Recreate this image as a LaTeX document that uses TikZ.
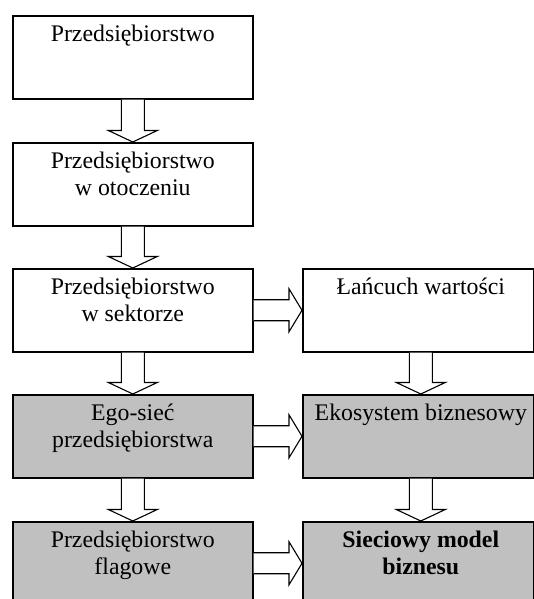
\documentclass[tikz,border=0pt]{standalone}
\usepackage{fontspec}
\setmainfont{Liberation Serif}
\usetikzlibrary{calc}
\definecolor{boxgray}{HTML}{C0C0C0}
\tikzset{
  box/.style={draw=black, line width=1.6pt, fill=white, minimum width=240pt, minimum height=83pt, inner sep=0pt, anchor=north west},
  rbox/.style={box, minimum width=231pt},
  graybox/.style={fill=boxgray},
  txt/.style={anchor=north, inner sep=0pt, align=center, font=\fontsize{23.8}{26.5}\selectfont},
  blockarrow/.style={draw=black, line width=1.1pt, fill=white, line join=miter}
}
\newcommand\vblockarrow[3]{%
  \draw[blockarrow] ($(#1.south)+(#3-11.5,0)$) -- ($(#2.north)+(#3-11.5,11.5)$) -- ($(#2.north)+(#3-24.5,11.5)$) -- ($(#2.north)+(#3,0)$) -- ($(#2.north)+(#3+24.5,11.5)$) -- ($(#2.north)+(#3+11.5,11.5)$) -- ($(#1.south)+(#3+11.5,0)$);}
\newcommand\hblockarrow[2]{%
  \draw[blockarrow] ($(#1.east)+(0,10.5)$) -- ($(#2.west)+(-13,10.5)$) -- ($(#2.west)+(-13,21.5)$) -- (#2.west) -- ($(#2.west)+(-13,-21.5)$) -- ($(#2.west)+(-13,-10.5)$) -- ($(#1.east)+(0,-10.5)$);}
\begin{document}
\begin{tikzpicture}[x=1pt,y=1pt]
\useasboundingbox (0,0) rectangle (534,599);
\clip (0,0) rectangle (534,599);
% left column boxes
\node[box] (b1) at (12,584) {};
\node[box] (b2) at (12,457) {};
\node[box] (b3) at (12,331) {};
\node[box, graybox] (b4) at (12,205) {};
\node[box, graybox] (b5) at (12,78) {};
% right column boxes
\node[rbox] (r3) at (302,331) {};
\node[rbox, graybox] (r4) at (302,205) {};
\node[rbox, graybox] (r5) at (302,78) {};
% texts
\node[txt] (t1) at ($(b1.north)+(0,-10)$) {Przedsiębiorstwo};
\node[txt] (t2) at ($(b2.north)+(0,-10)$) {Przedsiębiorstwo\\w otoczeniu};
\node[txt] (t3) at ($(b3.north)+(0,-10)$) {Przedsiębiorstwo\\w sektorze};
\node[txt] (t4) at ($(b4.north)+(0,-10)$) {Ego-sieć\\przedsiębiorstwa};
\node[txt] (t5) at ($(b5.north)+(0,-10)$) {Przedsiębiorstwo\\flagowe};
\node[txt] (s3) at ($(r3.north)+(2.5,-10)$) {Łańcuch wartości};
\node[txt] (s4) at ($(r4.north)+(2.5,-10)$) {Ekosystem biznesowy};
\node[txt, font=\fontsize{23.8}{26.5}\selectfont\bfseries] (s5) at ($(r5.north)+(2.5,-10)$) {Sieciowy model\\biznesu};
% vertical arrows
\vblockarrow{b1}{b2}{0}
\vblockarrow{b2}{b3}{0}
\vblockarrow{b3}{b4}{0}
\vblockarrow{b4}{b5}{0}
\vblockarrow{r3}{r4}{2.5}
\vblockarrow{r4}{r5}{2.5}
% horizontal arrows
\hblockarrow{b3}{r3}
\hblockarrow{b4}{r4}
\hblockarrow{b5}{r5}
\end{tikzpicture}
\end{document}
